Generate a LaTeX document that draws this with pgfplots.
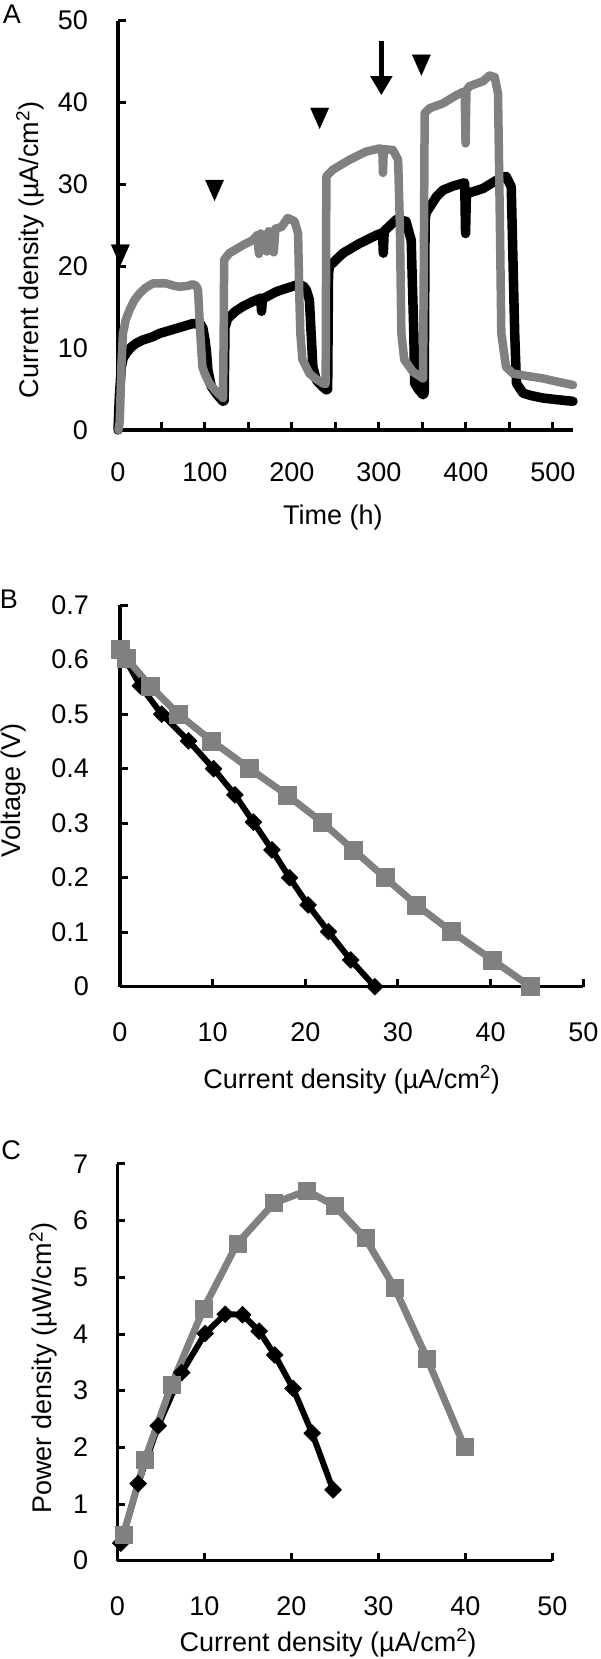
\documentclass[border=0pt]{standalone}
\usepackage{fontspec}
\setmainfont{Liberation Sans}
\usepackage{pgfplots}
\pgfplotsset{compat=1.18}
\usetikzlibrary{arrows.meta}
\definecolor{gr}{RGB}{128,128,128}
\newcommand\ff{\fontsize{27}{32}\selectfont}
\pgfplotsset{
  myaxis/.style={
    scale only axis, clip=false,
    axis lines*=left,
    axis line style={line width=3.5pt, black},
    tick align=inside,
    major tick length=8pt, minor tick length=8pt,
    tick style={black, line width=3pt},
    /pgf/number format/assume math mode=true,
    tick label style={font=\ff},
    label style={font=\ff},
  }
}
\begin{document}
\begin{tikzpicture}
\path[use as bounding box] (0pt,0pt) rectangle (600pt,1659pt);
\node[font=\ff, anchor=center] at (12pt,1645pt) {A};
\node[font=\ff, anchor=center] at (9pt,1060pt) {B};
\node[font=\ff, anchor=center] at (11pt,509pt) {C};

% ---------------- Panel A ----------------
\begin{axis}[myaxis,
  at={(118pt,1229pt)}, anchor=south west, width=455pt, height=409.3pt,
  xmin=0, xmax=523, ymin=0, ymax=50,
  xtick={0,100,...,500}, minor xtick={50,150,...,450},
  ytick={0,10,...,50},
  xticklabel style={anchor=center, inner sep=0pt, yshift=-42pt},
  yticklabel style={anchor=east, inner sep=0pt, xshift=-30pt},
  xlabel={Time (h)},
  xlabel style={at={(axis description cs:0.4725,-0.215)}, anchor=center},
  ylabel={Current density (µA/cm\textsuperscript{2})},
  ylabel style={at={(axis description cs:-0.1934,0.44)}, anchor=center},
]
\addplot[black, line width=9.5pt, line join=round, line cap=round] coordinates {
(0,0) (1.5,4) (3.8,7.7) (6,8.8) (9.6,9.4) (15,10.1) (21,10.6) (28.7,11) (40,11.4)
(48,11.8) (67,12.4) (86,13) (95,12.9) (97.7,12.4) (100,11) (101.5,9.8) (103.4,7.3)
(107.3,5.3) (114,4.3) (120.7,3.5) (122,3.6) (123,12.5) (126,13.6) (135,14.5)
(143.7,15.1) (155,15.7) (164,16.1) (165,14.5) (166,16.0) (182,16.9) (205,17.7)
(213,17.6) (216.5,17.1) (220,15.9) (222,11.8) (224,7.7) (228,6.1) (235,5.3)
(239.5,4.9) (241,5) (242,19) (243,20) (258.6,21.6) (277.8,22.8) (297,23.8)
(304,24.1) (305,21.6) (306,24.3) (320,25.7) (331,25.5) (337,23.2) (340,11.8)
(341,5.7) (345,5.0) (350.6,4.3) (352,4.5) (353,25.5) (354,26.5) (366,28.5)
(373.6,29.3) (385,29.8) (398.5,30.2) (399.5,24) (400.5,29.0) (405,29.0)
(419.5,29.5) (435,30.5) (446,31) (452,29.7) (456,11.8) (458,5.7) (465.5,4.5)
(475,4.2) (488.5,3.9) (505,3.7) (523,3.5)
};
\addplot[gr, line width=8.5pt, line join=round, line cap=round] coordinates {
(0.5,0) (2,1) (4,8) (5.7,11.8) (9,13.5) (13.4,14.7) (19,15.9) (25,16.7) (32,17.4)
(40,17.9) (55.5,17.9) (65,17.6) (71,17.5) (80,17.6) (86,17.8) (90,17.6) (92,17.1)
(93.5,14) (94.6,11.8) (97,7.7) (100,6.8) (105,5.7) (112,4.8) (119,4.1) (120.7,3.9)
(121.5,12) (122,20.8) (128,21.6) (144,22.6) (155,23.2) (160,23.8) (162,21.5)
(164,24) (168,23.5) (171,21.8) (173,24.3) (177,24.1) (179,21.7) (181,24.6)
(188,24.8) (195,25.9) (203,25.5) (207,24) (208.5,16) (209.6,11.8) (212,8.6)
(220,6.9) (228,6.2) (235.6,5.7) (238.7,5.6) (239.5,31) (247,31.8) (266,33)
(285,34) (300.8,34.4) (303.8,34.3) (304.6,31.4) (305.5,34.3) (316,34.2) (322,33)
(324,25) (325.7,11.8) (329,8.6) (339,7.1) (350.6,6.3) (351.5,20) (352.5,38.7)
(358,39.3) (373.6,39.9) (389,40.9) (396.6,41.3) (398.5,41.2) (399.5,35)
(400.5,41.5) (404,42) (419.5,42.6) (427,43.3) (433,43.1) (436.8,41.1) (439,25)
(440.6,11.8) (446,7.7) (454,6.9) (470,6.6) (488.5,6.3) (505,5.9) (523,5.5)
};
\addplot[only marks, mark=triangle*, mark size=10.5pt, black,
  mark options={rotate=180, yscale=1.3, fill=black}] coordinates {
(2.7,21.8) (111,29.7) (231.8,38.5) (348.7,45.0)
};
\addplot[black, line width=5.5pt, -{Triangle[width=21pt,length=19pt]}] coordinates {
(302.7,47.5) (302.7,40.9)
};
\end{axis}

% ---------------- Panel B ----------------
\begin{axis}[myaxis,
  at={(120pt,672.3pt)}, anchor=south west, width=463.3pt, height=381.5pt,
  xmin=0, xmax=50, ymin=0, ymax=0.7,
  xtick={0,10,...,50},
  ytick={0,0.1,0.2,0.3,0.4,0.5,0.6,0.7},
  yticklabels={0,0.1,0.2,0.3,0.4,0.5,0.6,0.7},
  xticklabel style={anchor=center, inner sep=0pt, yshift=-46pt},
  yticklabel style={anchor=east, inner sep=0pt, xshift=-31pt},
  xlabel={Current density (µA/cm\textsuperscript{2})},
  xlabel style={at={(axis description cs:0.5,-0.2438)}, anchor=center},
  ylabel={Voltage (V)},
  ylabel style={at={(axis description cs:-0.2288,0.515)}, anchor=center},
]
\addplot[black, line width=6pt, line join=round, mark=square*, mark size=6pt,
  mark options={rotate=45, fill=black, line width=0.5pt}] coordinates {
(0,0.615) (0.6,0.6) (2.2,0.552) (4.5,0.5) (7.4,0.451) (10.1,0.4) (12.4,0.352)
(14.4,0.302) (16.4,0.251) (18.3,0.2) (20.3,0.15) (22.5,0.101) (24.9,0.049) (27.5,0)
};
\addplot[gr, line width=7pt, line join=round, mark=square*, mark size=9pt,
  mark options={fill=gr, line width=0.5pt}] coordinates {
(0,0.619) (0.72,0.602) (3.24,0.552) (6.3,0.5) (9.9,0.451) (14.0,0.4) (18.0,0.352)
(21.8,0.302) (25.2,0.251) (28.6,0.2) (32.0,0.15) (35.8,0.101) (40.2,0.049) (44.3,0)
};
\end{axis}

% ---------------- Panel C ----------------
\begin{axis}[myaxis,
  at={(117.3pt,98.3pt)}, anchor=south west, width=435pt, height=396.7pt,
  xmin=0, xmax=50, ymin=0, ymax=7,
  xtick={0,10,...,50}, ytick={0,1,...,7},
  xticklabel style={anchor=center, inner sep=0pt, yshift=-46pt},
  yticklabel style={anchor=east, inner sep=0pt, xshift=-29pt},
  xlabel={Current density (µA/cm\textsuperscript{2})},
  xlabel style={at={(axis description cs:0.4844,-0.2067)}, anchor=center},
  ylabel={Power density (µW/cm\textsuperscript{2})},
  ylabel style={at={(axis description cs:-0.170,0.485)}, anchor=center},
]
\addplot[black, line width=6pt, line join=round, mark=square*, mark size=6pt,
  mark options={rotate=45, fill=black, line width=0.5pt}] coordinates {
(0.4,0.31) (2.4,1.36) (4.7,2.38) (7.4,3.32) (10.1,4.01) (12.4,4.35) (14.4,4.34)
(16.3,4.05) (18.1,3.63) (20.2,3.04) (22.4,2.25) (24.8,1.25)
};
\addplot[gr, line width=7pt, line join=round, mark=square*, mark size=8.5pt,
  mark options={fill=gr, line width=0.5pt}] coordinates {
(0.69,0.45) (3.18,1.79) (6.25,3.11) (9.9,4.44) (13.8,5.6) (18.0,6.31) (21.8,6.53)
(25.0,6.26) (28.5,5.69) (31.9,4.81) (35.6,3.57) (39.9,2.01)
};
\end{axis}
\end{tikzpicture}
\end{document}
